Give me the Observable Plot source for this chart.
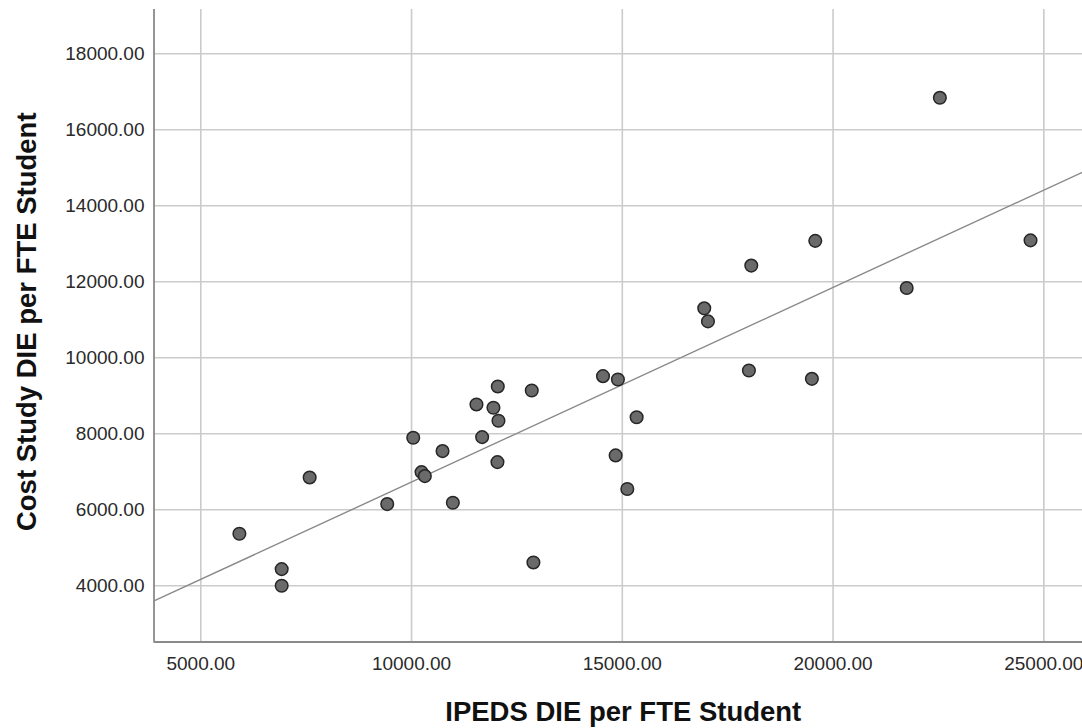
<!DOCTYPE html>
<html>
<head>
<meta charset="utf-8">
<script src="https://cdn.jsdelivr.net/npm/d3@7"></script>
<script src="https://cdn.jsdelivr.net/npm/@observablehq/plot@0.6"></script>
<style>
  html, body { margin: 0; padding: 0; background: #fff; }
  #chart svg { display: block; }
</style>
</head>
<body>
<div id="chart"></div>
<script>
// IPEDS direct instructional expense (DIE) per FTE student, by institution
const ipedsDie = [
  5916, 6919, 6919, 7583, 9423, 10040, 10237, 10316, 10735, 10980,
  11540, 11943, 12046, 12062, 11675, 12038, 12852, 12891, 14542, 14896,
  15340, 16944, 17032, 18060, 18004, 19578, 19498, 21747, 24685, 22534,
  14842, 15119
];
// Cost-study DIE per FTE student, same institutions
const costStudyDie = [
  5368, 4438, 4000, 6851, 6149, 7895, 6991, 6886, 7544, 6184,
  8772, 8684, 9246, 8342, 7912, 7254, 9140, 4614, 9516, 9429,
  8435, 11301, 10958, 12426, 9666, 13077, 9446, 11837, 13090, 16842,
  7431, 6546
];

const xTicks = [5000, 10000, 15000, 20000, 25000];
const yTicks = [4000, 6000, 8000, 10000, 12000, 14000, 16000, 18000];
const xDomain = [3890, 25918];
const yDomain = [2520, 19166];

const xLabel = "IPEDS DIE per FTE Student";
const yLabel = "Cost Study DIE per FTE Student";

const points = ipedsDie.map((x, i) => ({x, y: costStudyDie[i]}));

// Ordinary least-squares fit, drawn across the full horizontal extent
const mx = d3.mean(points, d => d.x);
const my = d3.mean(points, d => d.y);
const slope = d3.sum(points, d => (d.x - mx) * (d.y - my)) / d3.sum(points, d => (d.x - mx) ** 2);
const intercept = my - slope * mx;
const fitLine = xDomain.map(x => ({x, y: intercept + slope * x}));

const fmt = d => d.toFixed(2);

const chart = Plot.plot({
  width: 1082,
  height: 728,
  marginLeft: 153.5,
  marginRight: 0,
  marginTop: 9,
  marginBottom: 86.5,
  style: {fontFamily: "'Liberation Sans', Arial, sans-serif", fontSize: "19px", color: "#2a2a2a", background: "#fff"},
  x: {domain: xDomain},
  y: {domain: yDomain},
  marks: [
    Plot.gridX(xTicks, {stroke: "#cbcbcb", strokeOpacity: 1, strokeWidth: 1.6}),
    Plot.gridY(yTicks, {stroke: "#cbcbcb", strokeOpacity: 1, strokeWidth: 1.6}),
    Plot.line(fitLine, {x: "x", y: "y", stroke: "#8a8a8a", strokeWidth: 1.4, clip: true}),
    Plot.dot(points, {x: "x", y: "y", r: 6.3, fill: "#6a6a6a", stroke: "#262626", strokeWidth: 1.5}),
    Plot.ruleX([xDomain[0]], {stroke: "#8a8a8a", strokeWidth: 1.8}),
    Plot.ruleY([yDomain[0]], {stroke: "#8a8a8a", strokeWidth: 1.8}),
    Plot.axisX(xTicks, {tickSize: 0, tickPadding: 14, tickFormat: fmt, label: null, fontSize: 19}),
    Plot.axisY(yTicks, {tickSize: 0, tickPadding: 9.5, tickFormat: fmt, label: null, fontSize: 19}),
    Plot.text([xLabel], {frameAnchor: "bottom", dx: 5, dy: 70, textAnchor: "middle", lineAnchor: "middle", fontSize: 27.5, fontWeight: "bold", fill: "#111"}),
    Plot.text([yLabel], {frameAnchor: "left", dx: -126.5, dy: -4, rotate: -90, textAnchor: "middle", lineAnchor: "middle", fontSize: 27.5, fontWeight: "bold", fill: "#111"})
  ]
});

document.getElementById("chart").append(chart);
</script>
</body>
</html>
